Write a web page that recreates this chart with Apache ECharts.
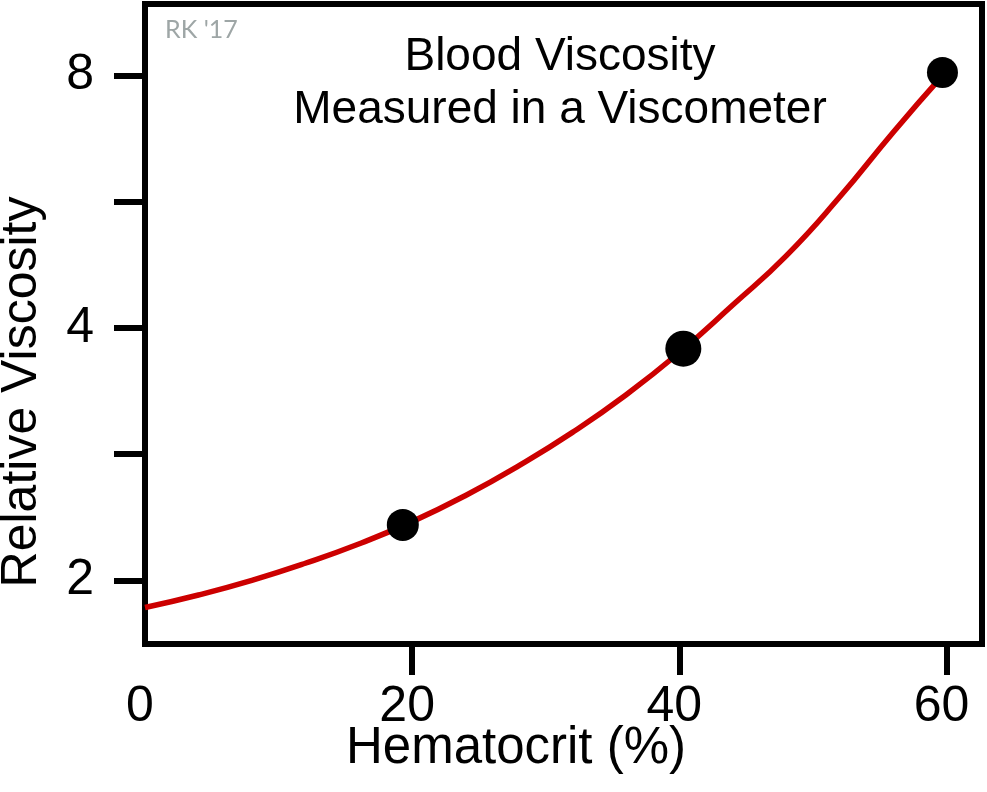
<!DOCTYPE html>
<html>
<head>
<meta charset="utf-8">
<script src="https://cdn.jsdelivr.net/npm/echarts@6/dist/echarts.min.js"></script>
<style>
  html, body { margin: 0; padding: 0; background: #ffffff; }
  #chart { width: 987px; height: 792px; }
</style>
</head>
<body>
<div id="chart"></div>
<script>
// ---- data ----
var curveX = [0, 4, 8, 12, 16, 20, 24, 28, 32, 36, 40, 44, 48, 52, 56, 59.7];
var curveY = [1.857, 1.922, 2.001, 2.097, 2.211, 2.351, 2.526, 2.742, 3.004, 3.329, 3.74, 4.261, 4.877, 5.732, 6.845, 8.0];
var pointX = [19.3, 40.3, 59.7];
var pointY = [2.33, 3.78, 8.07];
var pointSize = [32, 36, 31];
var xTickValues = [20, 40, 60];
var xLabelValues = [0, 20, 40, 60];
var yTickValues = [2, 2.83, 4, 5.66, 8];
var yLabelValues = [2, 4, 8];
var titleLines = ['Blood Viscosity', 'Measured in a Viscometer'];
var xTitle = 'Hematocrit (%)';
var yTitle = 'Relative Viscosity';
var signature = "RK '17";

var FONT = '"Liberation Sans", Arial, Helvetica, sans-serif';

var curveData = curveX.map(function (x, i) { return [x, curveY[i]]; });
var pointData = pointX.map(function (x, i) {
  return { value: [x, pointY[i]], symbolSize: pointSize[i] };
});

var chart = echarts.init(document.getElementById('chart'), null, { renderer: 'canvas' });
chart.setOption({
  animation: false,
  backgroundColor: '#ffffff',
  grid: {
    left: 145, right: 5, top: 4, bottom: 148,
    show: true, borderColor: '#000000', borderWidth: 6, backgroundColor: 'transparent'
  },
  xAxis: {
    type: 'value',
    min: 0, max: 62.66,
    axisLine: { show: false },
    splitLine: { show: false },
    axisTick: {
      show: true, length: 31, customValues: xTickValues,
      lineStyle: { color: '#000000', width: 6 }
    },
    axisLabel: {
      customValues: xLabelValues,
      color: '#000000', fontFamily: FONT, fontSize: 50, margin: 38,
      padding: [0, 10, 0, 0]
    }
  },
  yAxis: {
    type: 'log', logBase: 2,
    min: 1.68, max: 9.74,
    axisLine: { show: false },
    splitLine: { show: false },
    axisTick: {
      show: true, length: 31, customValues: yTickValues,
      lineStyle: { color: '#000000', width: 6 }
    },
    axisLabel: {
      customValues: yLabelValues,
      color: '#000000', fontFamily: FONT, fontSize: 50, margin: 51,
      padding: [0, 0, 9, 0]
    }
  },
  graphic: [
    {
      type: 'text', x: 560, y: 57,
      style: { text: titleLines[0], font: '46px ' + FONT, fill: '#000000', align: 'center', verticalAlign: 'middle' }
    },
    {
      type: 'text', x: 560, y: 110,
      style: { text: titleLines[1], font: '46px ' + FONT, fill: '#000000', align: 'center', verticalAlign: 'middle' }
    },
    {
      type: 'text', x: 165, y: 30,
      style: { text: signature, font: '25px Lato, "Noto Sans", sans-serif', fill: '#9ea6a6', align: 'left', verticalAlign: 'middle' }
    },
    {
      type: 'text', x: 516, y: 749,
      style: { text: xTitle, font: '51px ' + FONT, fill: '#000000', align: 'center', verticalAlign: 'middle' }
    },
    {
      type: 'text', x: 22, y: 392, rotation: Math.PI / 2,
      style: { text: yTitle, font: '50px ' + FONT, fill: '#000000', align: 'center', verticalAlign: 'middle' }
    }
  ],
  series: [
    {
      type: 'line',
      data: curveData,
      smooth: 0.5,
      showSymbol: false,
      lineStyle: { color: '#cc0000', width: 5.5 },
      z: 2
    },
    {
      type: 'scatter',
      data: pointData,
      itemStyle: { color: '#000000', opacity: 1 },
      z: 3
    }
  ]
});
</script>
</body>
</html>
